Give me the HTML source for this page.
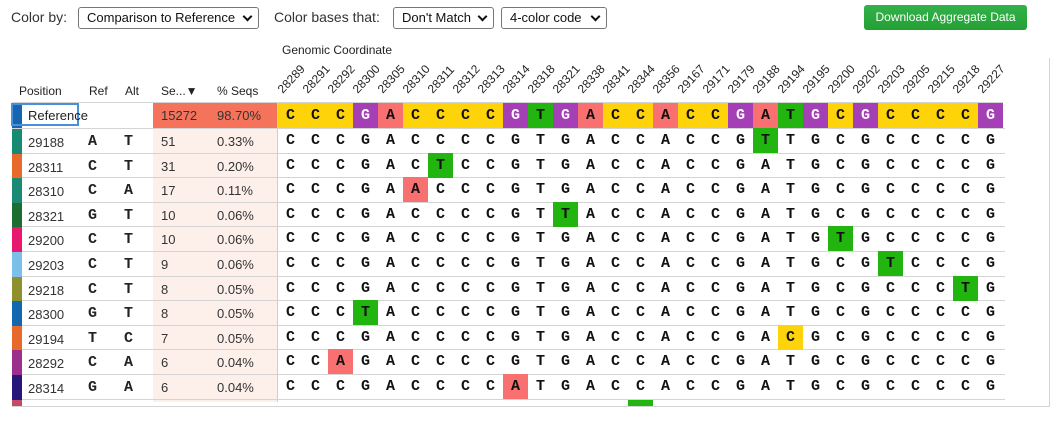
<!DOCTYPE html>
<html><head><meta charset="utf-8"><style>
body{margin:0;width:1058px;height:421px;background:#fff;font-family:"Liberation Sans",Arial,sans-serif;position:relative;overflow:hidden;color:#222}
.a{position:absolute}
.lbl{font-size:14px;color:#333;top:9px}
.sel{top:7px;border:1px solid #777;border-radius:3px;font-size:13px;line-height:20px;padding-left:8px;box-sizing:border-box;height:22px;background:#fff;color:#111}
.sel:after{content:"";position:absolute;right:7px;top:5px;width:5px;height:5px;border-right:2px solid #111;border-bottom:2px solid #111;transform:rotate(45deg)}
.btn{left:864px;top:5px;width:163px;height:25px;background:linear-gradient(#33b24a,#24a034);border-radius:3px;color:#fff;font-size:12px;line-height:25px;text-align:center}
.hd{font-size:12px;color:#222;top:84px}
.mono{font-family:"Liberation Mono","Courier New",monospace;font-weight:bold;font-size:15px}
.cell{width:25px;text-align:center;font-family:"Liberation Mono",monospace;font-weight:bold;font-size:15px;line-height:25px;height:25px}
.rot{font-size:12px;color:#222;transform-origin:0 100%;transform:rotate(-47deg);white-space:nowrap;line-height:14px}
.hl{height:1px;background:#d4d4d4}
</style></head><body>
<div class="a lbl" style="left:11px">Color by:</div>
<div class="a sel" style="left:78px;width:181px">Comparison to Reference</div>
<div class="a lbl" style="left:274px">Color bases that:</div>
<div class="a sel" style="left:393px;width:101px">Don't Match</div>
<div class="a sel" style="left:501px;width:106px">4-color code</div>
<div class="a btn">Download Aggregate Data</div>
<div class="a" style="left:282px;top:43px;font-size:12px">Genomic Coordinate</div>
<div class="a hd" style="left:19px">Position</div>
<div class="a hd" style="left:89px">Ref</div>
<div class="a hd" style="left:125px">Alt</div>
<div class="a hd" style="left:161px">Se...▼</div>
<div class="a hd" style="left:217px">% Seqs</div>
<div class="a" style="left:1049px;top:58px;width:1px;height:349px;background:#d4d4d4"></div>
<div id="g"></div>
<script>
const coords=[28289,28291,28292,28300,28305,28310,28311,28312,28313,28314,28318,28321,28338,28341,28344,28356,29167,29171,29179,29188,29194,29195,29200,29202,29203,29205,29215,29218,29227];
const refSeq="CCCGACCCCGTGACCACCGATGCGCCCCG".split("");
const positions=[29188,28311,28310,28321,29200,29203,29218,28300,29194,28292,28314];
const refs=["A","C","C","G","C","C","C","G","T","C","G"];
const alts=["T","T","A","T","T","T","T","T","C","A","A"];
const seqCounts=[51,31,17,10,10,9,8,8,7,6,6];
const pcts=["0.33%","0.20%","0.11%","0.06%","0.06%","0.06%","0.05%","0.05%","0.05%","0.04%","0.04%"];
const barColors=["#168a72","#e8692c","#1a8a74","#1b6e30","#e8186e","#7cc0ea","#8f8f2e","#1367b0","#e8692c","#9b2f8e","#27177a","#c04c6a"];
const baseCol={C:"#ffd30a",G:"#a53fb6",A:"#f97070",T:"#22b40f"};
const g=document.getElementById('g');
const X0=278,CW=25,RT=103,RH=24.6;
function mk(cls,style,txt){const d=document.createElement('div');d.className='a '+cls;d.style.cssText=style;if(txt!==undefined)d.textContent=txt;g.appendChild(d);return d;}
let bg=mk('', `left:153px;top:${RT}px;width:125px;height:${RH*12+4}px;background:#fdf0eb`);

let rb=mk('', `left:153px;top:${RT}px;width:125px;height:25px;background:#f5735a`);

let vl=mk('', `left:277px;top:${RT}px;width:1px;height:${RH*12+4}px;background:#cfcfcf`);

coords.forEach((c,i)=>{
 const t=mk('rot',`left:${X0+i*CW+7}px;top:82px`,String(c));
 
 
 const cell=mk('cell',`left:${X0+i*CW}px;top:${RT}px;background:${baseCol[refSeq[i]]};color:${refSeq[i]==='G'?'#fff':'#111'}`,refSeq[i]);
 
 
});
for(let r=0;r<=12;r++){const y=RT+(r===0?-1:25+(r-1)*RH);const l=mk('hl',`left:12px;top:${Math.round(y)}px;width:${r===0?266:993}px`);
 
 }
let l2=mk('hl',`left:278px;top:${RT-1}px;width:725px`);

let rbar=mk('',`left:12px;top:${RT}px;width:10px;height:25px;background:#1565b0`);

let rin=mk('',`left:11px;top:${RT}px;width:68px;height:23px;border:2px solid #4a90d9;box-sizing:border-box`);

let rt=mk('',`left:28px;top:${RT+5}px;font-size:13px`,'Reference');

let rc=mk('',`left:161px;top:${RT+5}px;font-size:13px;color:#333`,'15272');

let rp=mk('',`left:217px;top:${RT+5}px;font-size:13px;color:#333`,'98.70%');

positions.forEach((p,r)=>{
 const y=RT+25+r*RH+1;
 const b=mk('',`left:12px;top:${y}px;width:10px;height:${RH}px;background:${barColors[r]}`);
 
 
 const pt=mk('',`left:28px;top:${y+6}px;font-size:13px;color:#333`,String(p));
 
 
 const rf=mk('mono',`left:88px;top:${y+4}px`,refs[r]);
 
 
 const al=mk('mono',`left:124px;top:${y+4}px`,alts[r]);
 
 
 const sc=mk('',`left:161px;top:${y+5}px;font-size:13px;color:#333`,String(seqCounts[r]));
 
 
 const pc=mk('',`left:217px;top:${y+5}px;font-size:13px;color:#333`,pcts[r]);
 
 
 const ci=coords.indexOf(p);
 coords.forEach((c,i)=>{
  const base=i===ci?alts[r]:refSeq[i];
  const cell=mk('cell',`left:${X0+i*CW}px;top:${y-1}px;${i===ci?'background:'+baseCol[base]+';':''}color:#111`,base);
  
  
 });
});
const ly=Math.round(RT+25+11*RH+1);
const lb=mk('',`left:12px;top:${ly}px;width:10px;height:${406-ly}px;background:${barColors[11]}`);

const lc=mk('',`left:${X0+14*CW}px;top:${ly}px;width:25px;height:${406-ly}px;background:#22b40f`);

const lf=mk('hl',`left:12px;top:406px;width:1037px`);

</script>
</body></html>
